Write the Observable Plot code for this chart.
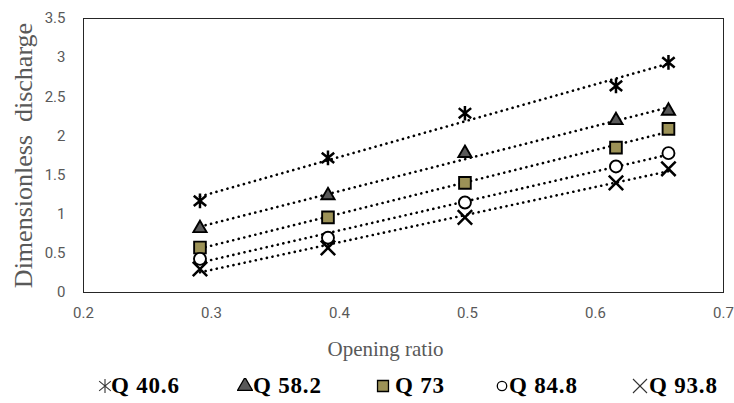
<!DOCTYPE html>
<html><head><meta charset="utf-8">
<script src="https://cdn.jsdelivr.net/npm/d3@7"></script>
<script src="https://cdn.jsdelivr.net/npm/@observablehq/plot@0.6"></script>
<style>
body{margin:0;background:#fff;}
#legend{position:relative;width:734px;height:38px;font-family:"Liberation Serif",serif;font-weight:bold;font-size:23px;color:#000;}
.item{position:absolute;top:8px;height:26px;display:flex;align-items:center;}
.item svg{position:absolute;}
.item span{position:absolute;white-space:nowrap;letter-spacing:0.8px;line-height:26px;top:0;}
</style></head><body><div id="chart"></div><div id="legend"></div>
<script>
const openingRatio = [0.291, 0.391, 0.498, 0.616, 0.657];
const seriesNames = ["Q 40.6", "Q 58.2", "Q 73", "Q 84.8", "Q 93.8"];
const q406 = [1.17, 1.72, 2.29, 2.64, 2.94];
const q582 = [0.82, 1.24, 1.78, 2.20, 2.32];
const q73  = [0.575, 0.96, 1.40, 1.85, 2.09];
const q848 = [0.43, 0.70, 1.15, 1.61, 1.78];
const q938 = [0.30, 0.57, 0.96, 1.40, 1.58];
const xTicks = [0.2, 0.3, 0.4, 0.5, 0.6, 0.7];
const yTicks = [0, 0.5, 1, 1.5, 2, 2.5, 3, 3.5];

// Excel-style "star" marker: vertical bar plus an X
const star = {
  draw(context, size) {
    const h = Math.sqrt(size / Math.PI);
    context.moveTo(0, -h); context.lineTo(0, h);
    context.moveTo(-0.85 * h, -0.7 * h); context.lineTo(0.85 * h, 0.7 * h);
    context.moveTo(-0.85 * h, 0.7 * h); context.lineTo(0.85 * h, -0.7 * h);
  }
};

const seriesValues = [q406, q582, q73, q848, q938];
const symbols = [star, "triangle", "square", "circle", "times"];
const fills = ["none", "#595959", "#9c9257", "white", "none"];
const radii = [7.3, 4.9, 6.6, 6, 6.6];
const lineSym = [true, false, false, false, true];

const rows = [];
seriesValues.forEach((vals, i) => vals.forEach((v, j) => rows.push({x: openingRatio[j], y: v, series: seriesNames[i]})));

const tickFont = "Roboto, 'Liberation Sans', sans-serif";
const serif = "'Liberation Serif', serif";

const marks = [
  Plot.frame({stroke: "#262626", strokeWidth: 1}),
  Plot.axisX({ticks: xTicks, tickSize: 0, tickPadding: 15, tickFormat: d => String(d), label: null, fontSize: 15, fontFamily: tickFont, color: "#595959"}),
  Plot.axisY({ticks: yTicks, tickSize: 0, tickPadding: 18, tickFormat: d => String(d), label: null, fontSize: 15, fontFamily: tickFont, color: "#595959"}),
];
seriesNames.forEach((name) => {
  marks.push(Plot.linearRegressionY(rows.filter(r => r.series === name), {x: "x", y: "y", ci: 0, stroke: "black", strokeWidth: 2.6, strokeDasharray: "0.1 5.6", strokeLinecap: "round"}));
});
seriesNames.forEach((name, i) => {
  marks.push(Plot.dot(rows.filter(r => r.series === name), {
    x: "x", y: "y", symbol: () => symbols[i], r: radii[i],
    fill: fills[i], stroke: "black", strokeWidth: lineSym[i] ? 2.5 : 1.9
  }));
});
marks.push(Plot.text(["Dimensionless  discharge"], {frameAnchor: "left", textAnchor: "middle", rotate: -90, dx: -60, fontFamily: serif, fontSize: 26, fill: "#595959"}));
marks.push(Plot.text(["Opening ratio"], {frameAnchor: "bottom", dy: 63, dx: -18, fontFamily: serif, fontSize: 21, fill: "#595959"}));

const chart = Plot.plot({
  width: 734, height: 365,
  marginTop: 18, marginBottom: 73, marginLeft: 83, marginRight: 11,
  x: {domain: [0.2, 0.7]},
  y: {domain: [0, 3.5]},
  symbol: {type: "identity"},
  marks
});
document.getElementById("chart").append(chart);

// legend
const symCenters = [105, 245, 383, 502, 640];
const textStarts = [111, 253, 395, 509, 649];
const legend = d3.select("#legend");
const legSymbols = [star, d3.symbolTriangle, d3.symbolSquare, d3.symbolCircle, d3.symbolTimes];
const legSizes = [150, 95, 120, 70, 130];
seriesNames.forEach((name, i) => {
  const it = legend.append("div").attr("class", "item").style("left", "0px");
  const s = it.append("svg").attr("width", 16).attr("height", 16)
    .style("left", (symCenters[i] - 8) + "px").style("top", "5px");
  s.append("path")
    .attr("transform", "translate(8,8)")
    .attr("d", d3.symbol(legSymbols[i], legSizes[i])())
    .attr("fill", fills[i]).attr("stroke", lineSym[i] ? "#333" : "black")
    .attr("stroke-width", lineSym[i] ? 1.1 : 1.3);
  it.append("span").text(name).style("left", textStarts[i] + "px");
});
</script></body></html>
